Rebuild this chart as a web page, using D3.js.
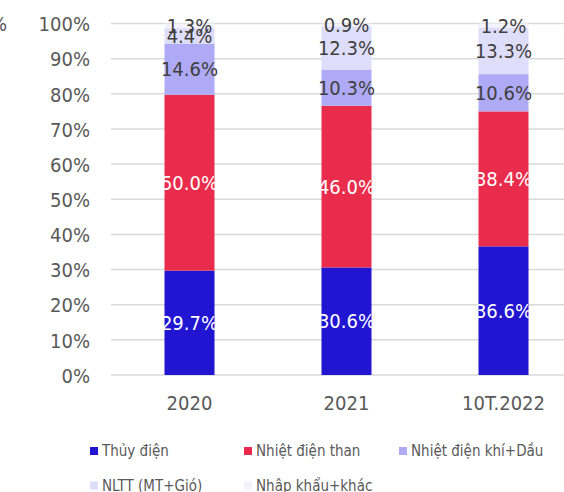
<!DOCTYPE html>
<html>
<head>
<meta charset="utf-8">
<script src="https://cdn.jsdelivr.net/npm/d3@7"></script>
<style>
  html, body { margin: 0; padding: 0; background: #fff; overflow: hidden; }
  svg { display: block; }
  text { font-family: "DejaVu Sans Condensed", "DejaVu Sans", sans-serif; }
</style>
</head>
<body>
<svg id="chart" width="564" height="492"></svg>
<script>
const categories = ["2020", "2021", "10T.2022"];
const seriesNames = ["Thủy điện", "Nhiệt điện than", "Nhiệt điện khí+Dầu", "NLTT (MT+Gió)", "Nhập khẩu+khác"];
const thuyDien   = [29.7, 30.6, 36.6];
const nhietThan  = [50.0, 46.0, 38.4];
const nhietKhi   = [14.6, 10.3, 10.6];
const nltt       = [4.4, 12.3, 13.3];
const nhapKhau   = [1.3, 0.9, 1.2];
const yTicks = [0, 10, 20, 30, 40, 50, 60, 70, 80, 90, 100];

const seriesValues = [thuyDien, nhietThan, nhietKhi, nltt, nhapKhau];
const colors = ["#2115D1", "#EA2C4C", "#AEAAF5", "#DFDEFA", "#F4F3FD"];
const labelColors = ["#ffffff", "#ffffff", "#404040", "#404040", "#404040"];

const svg = d3.select("#chart");

const x = d3.scaleBand().domain(categories).range([111, 582]).paddingInner(0.6815).paddingOuter(0.34075);
const y = d3.scaleLinear().domain([0, 100]).range([375, 23.5]);

// gridlines
svg.append("g").selectAll("line").data(yTicks).join("line")
  .attr("x1", 111).attr("x2", 564)
  .attr("y1", d => y(d)).attr("y2", d => y(d))
  .attr("stroke", "#d9d9d9").attr("stroke-width", 1.5);

// y axis labels
const yAxis = d3.axisLeft(y).tickValues(yTicks).tickFormat(d => d + "%").tickSize(0).tickPadding(0);
const yg = svg.append("g").attr("transform", "translate(90,0)").call(yAxis);
yg.select(".domain").remove();
yg.selectAll("text").attr("font-size", 20).attr("fill", "#595959")
  .attr("font-family", "'DejaVu Sans Condensed', 'DejaVu Sans', sans-serif").attr("dy", "0.36em");

// stray cut-off label at left edge
svg.append("text").attr("x", 7).attr("y", y(100) + 7).attr("text-anchor", "end")
  .attr("font-size", 20).attr("fill", "#595959").text("%");

// stacked data
const rows = categories.map((c, i) => {
  const o = { cat: c };
  seriesNames.forEach((s, j) => o[s] = seriesValues[j][i]);
  return o;
});
const stack = d3.stack().keys(seriesNames)(rows);

const gBars = svg.append("g");
stack.forEach((layer, j) => {
  gBars.append("g").selectAll("rect").data(layer).join("rect")
    .attr("x", d => x(d.data.cat))
    .attr("width", x.bandwidth())
    .attr("y", d => y(Math.min(d[1], 100)))
    .attr("height", d => y(d[0]) - y(Math.min(d[1], 100)))
    .attr("fill", colors[j]);
});
stack.forEach((layer, j) => {
  gBars.append("g").selectAll("text").data(layer).join("text")
    .attr("x", d => x(d.data.cat) + x.bandwidth() / 2)
    .attr("y", d => y((d[0] + Math.min(d[1], 100)) / 2))
    .attr("dy", "0.36em")
    .attr("text-anchor", "middle")
    .attr("font-size", 20)
    .attr("fill", labelColors[j])
    .text(d => (d[1] - d[0]).toFixed(1) + "%");
});

// x axis labels
const xAxis = d3.axisBottom(x).tickSize(0).tickPadding(0);
const xg = svg.append("g").attr("transform", "translate(0,395)").call(xAxis);
xg.select(".domain").remove();
xg.selectAll("text").attr("font-size", 20).attr("fill", "#595959")
  .attr("font-family", "'DejaVu Sans Condensed', 'DejaVu Sans', sans-serif").attr("dy", "0.76em");

// legend
const legX = [90, 244, 399];
const legY = [451, 485.5];
const leg = svg.append("g").selectAll("g").data(seriesNames).join("g")
  .attr("transform", (d, i) => `translate(${legX[i % 3]},${legY[Math.floor(i / 3)]})`);
leg.append("rect").attr("x", 0).attr("y", -4).attr("width", 8).attr("height", 8)
  .attr("fill", (d, i) => colors[i]);
leg.append("text").attr("x", 12).attr("y", 0).attr("dy", "0.36em")
  .attr("font-size", 15).attr("fill", "#595959").text(d => d);
</script>
</body>
</html>
